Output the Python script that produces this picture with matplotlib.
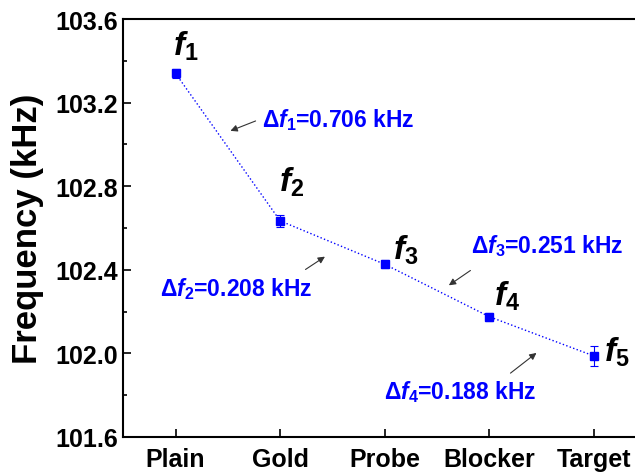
import numpy as np
import matplotlib.pyplot as plt
from matplotlib.ticker import MultipleLocator

plt.rcParams['font.family'] = ['Liberation Sans', 'DejaVu Sans']
plt.rcParams['mathtext.fontset'] = 'custom'
plt.rcParams['mathtext.rm'] = 'Liberation Sans:bold'
plt.rcParams['mathtext.it'] = 'Liberation Sans:bold:italic'
plt.rcParams['mathtext.bf'] = 'Liberation Sans:bold'

categories = ['Plain', 'Gold', 'Probe', 'Blocker', 'Target']
freq = [103.340, 102.634, 102.426, 102.175, 101.987]
err = [0.020, 0.028, 0.020, 0.020, 0.050]
deltas = ['0.706', '0.208', '0.251', '0.188']

blue = '#0000ff'
x = np.arange(1, len(categories) + 1)

fig = plt.figure(figsize=(6.35, 4.77), dpi=100)
ax = fig.add_axes([0.194, 0.082, 0.824, 0.876])

ax.plot(x, freq, ls=':', color=blue, lw=1.0)
ax.errorbar(x, freq, yerr=err, fmt='s', color=blue, ms=6, capsize=3, elinewidth=0.8, capthick=0.8)

ax.set_xlim(0.5, 5.5)
ax.set_ylim(101.6, 103.6)
ax.set_xticks(x)
ax.set_xticklabels(categories)
ax.yaxis.set_major_locator(MultipleLocator(0.4))
ax.yaxis.set_minor_locator(MultipleLocator(0.2))
ax.yaxis.set_major_formatter(plt.FormatStrFormatter('%.1f'))
ax.tick_params(direction='in', length=6, width=1.2, labelsize=18)
ax.tick_params(which='minor', direction='in', length=3, width=1.2)
ax.tick_params(axis='x', pad=7)
for lab in ax.get_xticklabels() + ax.get_yticklabels():
    lab.set_fontweight('bold')
for s in ax.spines.values():
    s.set_linewidth(1.5)
ax.set_ylabel('Frequency (kHz)', fontsize=25, fontweight='bold', labelpad=8)

# f labels (centre positions)
f_pos = [(1.10, 103.475), (2.11, 102.825), (3.20, 102.50), (4.17, 102.28), (5.22, 102.01)]
for i, (fx, fy) in enumerate(f_pos):
    ax.text(fx, fy, r'$f_{%d}$' % (i + 1), fontsize=24, ha='center', va='center')

# delta annotations: text left-centre, arrow tail, arrow tip
txt_pos = [(1.83, 103.12), (0.85, 102.31), (3.82, 102.52), (2.99, 101.82)]
tails = [(1.79, 103.117), (2.22, 102.394), (3.84, 102.404), (4.18, 101.897)]
tips = [(1.50, 103.06), (2.45, 102.47), (3.59, 102.318), (4.47, 102.01)]
for i, (tx, ty) in enumerate(txt_pos):
    ax.text(tx, ty, r'$\Delta f_{\mathrm{%d}}$=%s kHz' % (i + 1, deltas[i]),
            fontsize=16.5, color=blue, fontweight='bold', ha='left', va='center')
    ax.annotate('', xy=tips[i], xytext=tails[i],
                arrowprops=dict(arrowstyle='-|>', color='#333333', lw=0.8,
                                mutation_scale=10))

fig.savefig('out.png', dpi=100)
